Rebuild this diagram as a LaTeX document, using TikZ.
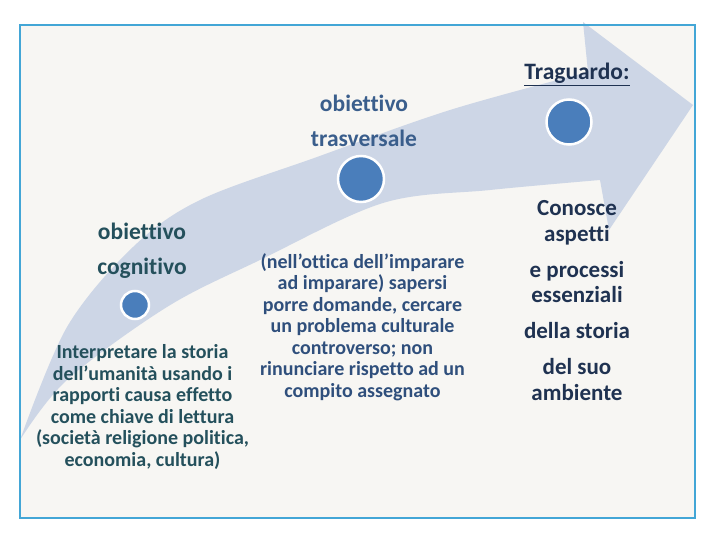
\documentclass[tikz,border=0pt]{standalone}
\usepackage{fontspec}
\setmainfont{Carlito}[Ligatures={NoCommon}]
\definecolor{framecol}{HTML}{43A6D6}
\definecolor{bgcol}{HTML}{F7F6F3}
\definecolor{arrowcol}{HTML}{CDD6E6}
\definecolor{dotcol}{HTML}{4A7EBB}
\definecolor{navy}{HTML}{1F3251}
\definecolor{steel}{HTML}{3A5E8C}
\definecolor{midblue}{HTML}{2F4F7C}
\definecolor{teal}{HTML}{24505C}
\tikzset{
  dot/.style={circle, fill=dotcol, draw=white, line width=2.5pt, inner sep=0pt},
  head/.style={font=\bfseries\fontsize{23.5}{35}\selectfont, align=center, inner sep=0pt},
  body/.style={font=\bfseries\fontsize{20}{21.5}\selectfont, align=center, inner sep=0pt},
  goal/.style={font=\bfseries\fontsize{23}{25.5}\selectfont, align=center, inner sep=0pt, text=navy}
}
\begin{document}
\begin{tikzpicture}[x=1pt,y=-1pt]
\useasboundingbox (0,0) rectangle (720,540);
\fill[white] (0,0) rectangle (720,540);
\fill[bgcol] (20,25) rectangle (695,518);
% big curved arrow
\fill[arrowcol] plot[smooth, tension=0.55] coordinates {(20,440) (67,327) (133,247) (200,200) (317,157) (450,110) (588,72)}
  -- (583,22) -- (693,105) -- (609,230) -- (600,180)
  -- plot[smooth, tension=0.55] coordinates {(600,180) (490,190) (383,203) (260,260) (167,307) (67,380) (20,440)} -- cycle;
\draw[framecol, line width=2pt] (20,25) rectangle (695,518);
% dots
\node[dot, minimum size=28pt] (d1) at (135,305) {};
\node[dot, minimum size=46pt] (d2) at (361,179) {};
\node[dot, minimum size=45pt] (d3) at (569,122) {};
% texts
\node[head, text=navy, anchor=base] (trag) at (577,80) {\underline{Traguardo:}};
\node[head, text=steel] (trasv) at (364,120.5) {obiettivo\\trasversale};
\node[head, text=teal] (cogn) at (142,250.5) {obiettivo\\cognitivo};
\node[body, text=midblue] (mid) at (362.5,327) {(nell’ottica dell’imparare\\ad imparare) sapersi\\porre domande, cercare\\un problema culturale\\controverso; non\\rinunciare rispetto ad un\\compito assegnato};
\node[body, text=teal] (left) at (142.5,407) {Interpretare la storia\\dell’umanità usando i\\rapporti causa effetto\\come chiave di lettura\\(società religione politica,\\economia, cultura)};
\node[goal] (right) at (577,300.5) {Conosce\\aspetti\\[10.5pt]e processi\\essenziali\\[10.5pt]della storia\\[10.5pt]del suo\\ambiente};
\end{tikzpicture}
\end{document}
